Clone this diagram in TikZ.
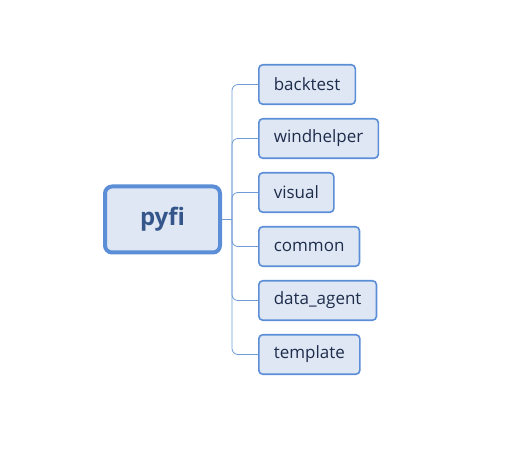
\documentclass[tikz,border=0pt]{standalone}
\usepackage{fontspec}
\setmainfont{Open Sans}
\definecolor{boxfill}{HTML}{DEE7F3}
\definecolor{boxline}{HTML}{5B8ED6}
\definecolor{conncol}{HTML}{6F9BD6}
\definecolor{childtext}{HTML}{1F2D4D}
\definecolor{roottext}{HTML}{34568A}
\tikzset{
  rootbox/.style={draw=boxline, line width=4pt, fill=boxfill, rounded corners=7pt,
    minimum width=115pt, minimum height=66pt, inner sep=0pt,
    font=\fontsize{24pt}{28pt}\selectfont\bfseries, text=roottext},
  childbox/.style={draw=boxline, line width=1.6pt, fill=boxfill, rounded corners=4pt,
    minimum height=39.5pt, inner xsep=15pt, inner ysep=0pt, anchor=west,
    font=\fontsize{17pt}{20pt}\selectfont, text=childtext},
  conn/.style={draw=conncol, line width=0.8pt, rounded corners=6pt},
}
\begin{document}
\begin{tikzpicture}[x=1pt,y=1pt]
\useasboundingbox (0,0) rectangle (517,450);
\node[rootbox] (root) at (162.5,230.5) {pyfi};
\node[childbox] (c1) at (258,365.5) {backtest};
\node[childbox] (c2) at (258,311.5) {windhelper};
\node[childbox] (c3) at (258,257.5) {visual};
\node[childbox] (c4) at (258,203.5) {common};
\node[childbox] (c5) at (258,149.5) {data\_agent};
\node[childbox] (c6) at (258,95.5) {template};
\coordinate (trunk) at (232,230.5);
\draw[conn] (root.east) -- (trunk);
\foreach \c in {c1,c2,c3,c4,c5,c6}{
  \draw[conn] (trunk) |- (\c.west);
}
\end{tikzpicture}
\end{document}
